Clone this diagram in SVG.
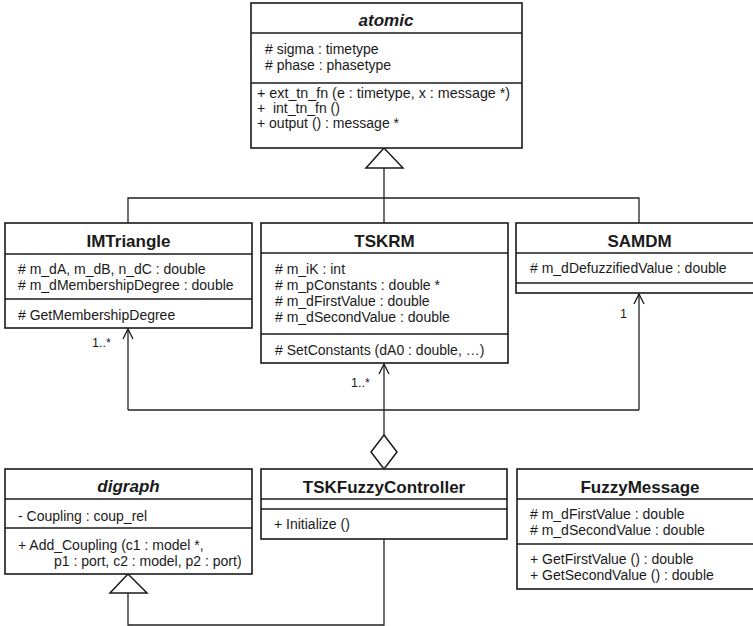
<svg xmlns="http://www.w3.org/2000/svg" width="753" height="626" viewBox="0 0 753 626">
<style>
.box{fill:#fff;stroke:#1a1a1a;stroke-width:1.6}
.div{stroke:#1a1a1a;stroke-width:1.6}
.t{font-family:"Liberation Sans",Arial,sans-serif;font-size:17px;font-weight:bold;text-anchor:middle;fill:#1a1a1a}
.ti{font-style:italic}
.a{font-family:"Liberation Sans",Arial,sans-serif;font-size:14px;fill:#1a1a1a}
.m{font-family:"Liberation Sans",Arial,sans-serif;font-size:12.5px;fill:#1a1a1a}
.c{fill:none;stroke:#222;stroke-width:1.3}
.h{fill:#fff;stroke:#1a1a1a;stroke-width:1.5}
</style>
<rect width="753" height="626" fill="#fff"/>
<g id="connectors">
<path class="c" d="M384,168 V223 M128,223 V198 H639 V223"/>
<polygon class="h" points="384,148 366,168 403,168"/>
<path class="c" d="M384,435 V364"/>
<path class="c" d="M128,410 H639"/>
<path class="c" d="M128,410 V329"/>
<path class="c" d="M639,410 V294"/>
<path d="M379,374 L384,364 L389,374 M123,339 L128,329 L133,339 M634,304 L639,294 L644,304" fill="none" stroke="#1a1a1a" stroke-width="1.3"/>
<polygon class="h" points="384,435 397,452 384,469 371,452"/>
<path class="c" d="M128,593 V625 H384 V539"/>
<polygon class="h" points="128,574 110,593 147,593"/>
<text class="m" x="92" y="347">1..*</text>
<text class="m" x="351" y="387">1..*</text>
<text class="m" x="620" y="318">1</text>
</g>
<g id="atomic">
<rect class="box" x="251" y="3" width="271" height="145"/>
<line class="div" x1="251" y1="33" x2="522" y2="33"/>
<line class="div" x1="251" y1="83" x2="522" y2="83"/>
<text class="t ti" x="386" y="26">atomic</text>
<text class="a" x="265" y="54"># sigma : timetype</text>
<text class="a" x="265" y="70"># phase : phasetype</text>
<text class="a" x="257" y="98" style="font-size:14.3px">+ ext_tn_fn (e : timetype, x : message *)</text>
<text class="a" x="257" y="113">+ &#160;int_tn_fn ()</text>
<text class="a" x="257" y="128">+ output () : message *</text>
</g>
<g id="IMTriangle">
<rect class="box" x="5" y="223" width="247" height="105"/>
<line class="div" x1="5" y1="254" x2="252" y2="254"/>
<line class="div" x1="5" y1="299" x2="252" y2="299"/>
<text class="t" x="128.5" y="247">IMTriangle</text>
<text class="a" x="18" y="274"># m_dA, m_dB, n_dC : double</text>
<text class="a" x="18" y="290"># m_dMembershipDegree : double</text>
<text class="a" x="18" y="320"># GetMembershipDegree</text>
</g>
<g id="TSKRM">
<rect class="box" x="261" y="223" width="247" height="140"/>
<line class="div" x1="261" y1="253" x2="508" y2="253"/>
<line class="div" x1="261" y1="334" x2="508" y2="334"/>
<text class="t" x="384.5" y="247">TSKRM</text>
<text class="a" x="275" y="274"># m_iK : int</text>
<text class="a" x="275" y="290"># m_pConstants : double *</text>
<text class="a" x="275" y="306"># m_dFirstValue : double</text>
<text class="a" x="275" y="322"># m_dSecondValue : double</text>
<text class="a" x="275" y="355"># SetConstants (dA0 : double, …)</text>
</g>
<g id="SAMDM">
<rect class="box" x="516" y="223" width="247" height="70"/>
<line class="div" x1="516" y1="253" x2="763" y2="253"/>
<line class="div" x1="516" y1="283" x2="763" y2="283"/>
<text class="t" x="639.5" y="247">SAMDM</text>
<text class="a" x="530" y="273"># m_dDefuzzifiedValue : double</text>
</g>
<g id="digraph">
<rect class="box" x="5" y="469" width="247" height="105"/>
<line class="div" x1="5" y1="499" x2="252" y2="499"/>
<line class="div" x1="5" y1="528" x2="252" y2="528"/>
<text class="t ti" x="128.5" y="492">digraph</text>
<text class="a" x="18" y="521">- Coupling : coup_rel</text>
<text class="a" x="18" y="550">+ Add_Coupling (c1 : model *,</text>
<text class="a" x="54" y="566">p1 : port, c2 : model, p2 : port)</text>
</g>
<g id="TSKFuzzyController">
<rect class="box" x="261" y="469" width="246" height="70"/>
<line class="div" x1="261" y1="499" x2="507" y2="499"/>
<line class="div" x1="261" y1="509" x2="507" y2="509"/>
<text class="t" x="384" y="493">TSKFuzzyController</text>
<text class="a" x="274" y="529">+ Initialize ()</text>
</g>
<g id="FuzzyMessage">
<rect class="box" x="517" y="469" width="247" height="120"/>
<line class="div" x1="517" y1="499" x2="764" y2="499"/>
<line class="div" x1="517" y1="544" x2="764" y2="544"/>
<text class="t" x="640" y="493">FuzzyMessage</text>
<text class="a" x="530" y="519"># m_dFirstValue : double</text>
<text class="a" x="530" y="535"># m_dSecondValue : double</text>
<text class="a" x="530" y="564">+ GetFirstValue () : double</text>
<text class="a" x="530" y="580">+ GetSecondValue () : double</text>
</g>
</svg>
